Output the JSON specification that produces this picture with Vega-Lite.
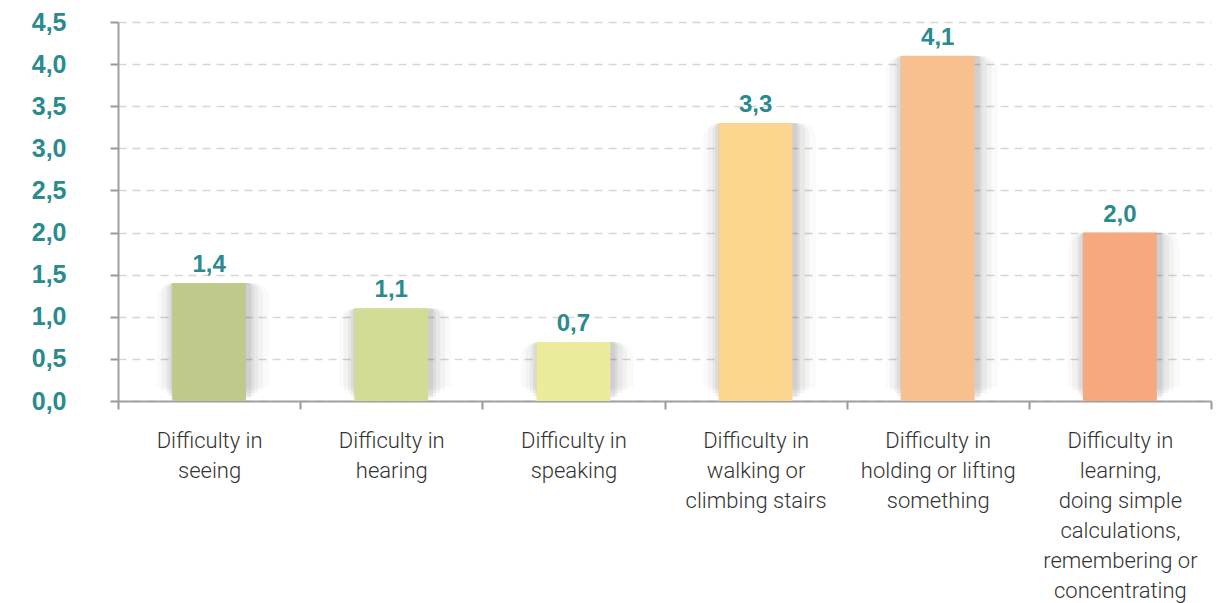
{
  "$schema": "https://vega.github.io/schema/vega-lite/v6.json",
  "autosize": {"type": "none"},
  "width": 1093,
  "height": 379,
  "padding": {"left": 118, "top": 22, "right": 17, "bottom": 202},
  "background": "white",
  "config": {
    "locale": {"number": {"decimal": ",", "thousands": ".", "grouping": [3], "currency": ["", " €"]}},
    "view": {"stroke": null}
  },
  "data": {
    "values": [
      {"cat": "Difficulty in|seeing", "value": 1.4, "color": "#BFC98B"},
      {"cat": "Difficulty in|hearing", "value": 1.1, "color": "#D2DC95"},
      {"cat": "Difficulty in|speaking", "value": 0.7, "color": "#EAEC9C"},
      {"cat": "Difficulty in|walking or|climbing stairs", "value": 3.3, "color": "#FCD68E"},
      {"cat": "Difficulty in|holding or lifting|something", "value": 4.1, "color": "#F9C08F"},
      {"cat": "Difficulty in|learning,|doing simple|calculations,|remembering or|concentrating", "value": 2.0, "color": "#F6A97E"}
    ]
  },
  "encoding": {
    "x": {
      "field": "cat", "type": "nominal", "sort": null,
      "scale": {"paddingInner": 0, "paddingOuter": 0},
      "axis": {
        "title": null, "labelAngle": 0, "labelExpr": "split(datum.label, '|')",
        "labelFont": "Roboto", "labelFontWeight": 300, "labelFontSize": 22, "labelColor": "#333333",
        "labelLineHeight": 30, "labelPadding": 21, "labelBaseline": "top",
        "tickBand": "extent", "tickColor": "#999999", "tickWidth": 2, "tickSize": 8,
        "domainColor": "#a0a0a0", "domainWidth": 2, "grid": false
      }
    },
    "y": {
      "field": "value", "type": "quantitative",
      "scale": {"domain": [0, 4.5], "nice": false},
      "axis": {
        "title": null, "values": [0, 0.5, 1, 1.5, 2, 2.5, 3, 3.5, 4, 4.5], "format": ".1f",
        "labelFont": "Liberation Sans", "labelFontWeight": "bold", "labelFontSize": 25, "labelColor": "#2A8A8E",
        "labelPadding": 44, "tickColor": "#999999", "tickWidth": 2, "tickSize": 8,
        "domainColor": "#a0a0a0", "domainWidth": 2,
        "grid": true, "gridColor": "#d6d6d6", "gridDash": [8, 6], "gridWidth": 1.5
      }
    }
  },
  "layer": [
    {"mark": {"type": "bar", "color": "#000000", "opacity": 0.02, "width": {"band": 0.62}, "yOffset": -14, "y2Offset": 16, "xOffset": 4, "cornerRadius": 16}},
    {"mark": {"type": "bar", "color": "#000000", "opacity": 0.03, "width": {"band": 0.56}, "yOffset": -11, "y2Offset": 13, "xOffset": 3, "cornerRadius": 12}},
    {"mark": {"type": "bar", "color": "#000000", "opacity": 0.04, "width": {"band": 0.51}, "yOffset": -8, "y2Offset": 10, "xOffset": 3, "cornerRadius": 9}},
    {"mark": {"type": "bar", "color": "#000000", "opacity": 0.05, "width": {"band": 0.47}, "yOffset": -5, "y2Offset": 7, "xOffset": 2, "cornerRadius": 6}},
    {"mark": {"type": "bar", "color": "#000000", "opacity": 0.06, "width": {"band": 0.44}, "yOffset": -3, "y2Offset": 4, "xOffset": 2, "cornerRadius": 3}},
    {"mark": {"type": "bar", "width": {"band": 0.405}}, "encoding": {"color": {"field": "color", "type": "nominal", "scale": null}}},
    {
      "mark": {"type": "text", "baseline": "alphabetic", "dy": -11, "font": "Liberation Sans", "fontWeight": "bold", "fontSize": 24, "color": "#2A8A8E"},
      "encoding": {"text": {"field": "value", "type": "quantitative", "format": ".1f"}}
    }
  ]
}
